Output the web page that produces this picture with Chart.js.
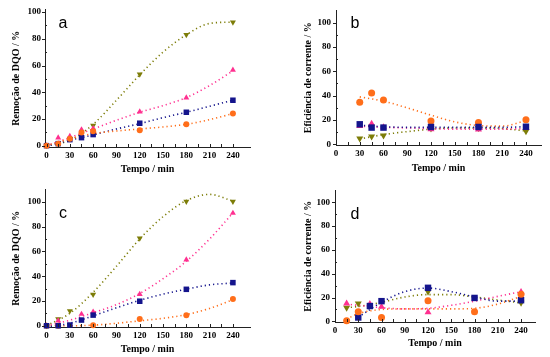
<!DOCTYPE html>
<html><head><meta charset="utf-8">
<script src="https://cdn.jsdelivr.net/npm/chart.js@4.4.1/dist/chart.umd.min.js"></script>
<style>
html,body{margin:0;padding:0;background:#fff;}
#wrap{position:relative;width:550px;height:357px;overflow:hidden;background:#fff;}
.pn{position:absolute;}
</style></head><body>
<div id="wrap">
 <div class="pn" style="left:0;top:0;width:275px;height:180px"><canvas id="ca" width="275" height="180"></canvas></div>
 <div class="pn" style="left:275px;top:0;width:275px;height:180px"><canvas id="cb" width="275" height="180"></canvas></div>
 <div class="pn" style="left:0;top:180px;width:275px;height:177px"><canvas id="cc" width="275" height="177"></canvas></div>
 <div class="pn" style="left:275px;top:180px;width:275px;height:177px"><canvas id="cd" width="275" height="177"></canvas></div>
</div>
<script>
// ---------- data ----------
const xTicks = [0,30,60,90,120,150,180,210,240];
const yTicks = [0,20,40,60,80,100];
const titleX = "Tempo / min";
const titleRem = "Remoção de DQO / %";
const titleEf = "Eficiência de corrente / %";

const tAC = [0,15,30,45,60,120,180,240];
const tB  = [30,45,60,120,180,240];
const tD  = [15,30,45,60,120,180,240];
const tFit  = [0,30,60,90,120,150,180,210,240];
const tFitB = [30,60,90,120,150,180,210,240];
const tFitD = [15,30,60,90,120,150,180,210,240];

// panel a
const aSquare = [0,1.5,4.5,6,8.3,16.8,25,34];
const aCircle = [0,1.5,5.2,9.8,10.7,11.5,16,24];
const aUp     = [0,5.9,7.1,12,12.9,25.4,35.9,56.6];
const aDown   = [0,null,null,null,15.1,53.4,83,92.4];
const aSquareFit = [-0.5,4,8,12.5,16.5,21,25,29.5,34];
const aCircleFit = [0,5,9,11,12.5,14,16,19.5,24];
const aUpFit     = [0,6,12.5,19,25,30,36,45,56];
const aDownFit   = [0,4,16,34,53,70,83,91.5,92.5];

// panel b
const bSquare = [16.5,13.8,13.8,14.3,14.3,14.5];
const bCircle = [34.6,42.2,36.5,19.2,17.9,20.3];
const bUp     = [15.1,17,14,12.4,12.2,13.5];
const bDown   = [4.9,6.5,7.3,13,13.5,10.8];
const bSquareFit = [15.7,14.5,14,14,14,14,14,14.5];
const bCircleFit = [39,35.5,30,24,18.5,15.5,15,19.5];
const bUpFit     = [15,14,13.5,13,12.5,12.5,12.5,13];
const bDownFit   = [4.5,8,10.5,12.5,13.5,13.5,13,11];

// panel c
const cSquare = [0,0,0.6,4.6,8.6,19.8,29.4,34.8];
const cCircle = [0,0,null,null,0.5,5.5,8.5,21.5];
const cUp     = [0,4,null,9.4,11.2,25.4,53.2,90.9];
const cDown   = [0,5.4,12,null,25.2,70.6,100.2,100.2];
const cSquareFit = [-1,2,8,14.5,20.5,25.5,29.5,33,34.5];
const cCircleFit = [0,0,0.5,2,4,6,9,14,21];
const cUpFit     = [0,4.5,10.5,17,26,38,52,70,91];
const cDownFit   = [0,10,27,48,70,88,101,106,100.5];

// panel d
const dSquare = [null,3.3,12.9,17,28.2,19.7,17.8];
const dCircle = [0.6,8.2,null,3.3,17.3,8.2,22.8];
const dUp     = [15.1,null,14.5,12.3,7.7,null,24.7];
const dDown   = [11.5,15.1,null,null,25,null,15.6];
const dSquareFit = [null,3.5,16,25,28,25,20.5,17,17];
const dCircleFit = [2,6.5,10,10.5,10.5,10.5,11,14.5,21];
const dUpFit     = [14.5,13.5,11.5,10.5,11,13.5,17,21,25];
const dDownFit   = [11.5,12.5,16,20.5,22.5,22.5,20.5,18,15.5];

// ---------- styling ----------
const C = {
  navy:'#14148c', orange:'#ff6e1a', pink:'#ff3090', olive:'#7d7d08'
};
const serif = "'Liberation Serif','Times New Roman',serif";

function pts(t, v){ return t.map((x,i)=>({x:x, y:v[i]})).filter(p=>p.y!==null); }

function series(t, v, tf, vf, color, style, r, order){
  const rot = style === 'down' ? 180 : 0;
  const ps = style === 'square' ? 'rect' : (style === 'circle' ? 'circle' : 'triangle');
  const rr = style === 'square' ? r*1.3 : (style === 'circle' ? r : r*1.15);
  return [
    {data: pts(t,v), showLine:false, pointStyle:ps, rotation:rot, pointRadius:rr,
     backgroundColor:color, borderColor:color, borderWidth:0, order:order, clip:false},
    {data: pts(tf,vf), showLine:true, pointRadius:0, borderColor:color, borderWidth:1.6,
     borderDash:[1.2,3], borderCapStyle:'butt', cubicInterpolationMode:'monotone',
     fill:false, order:order+10, clip:false}
  ];
}

const tickPlugin = {
  id:'ticksDraw',
  afterDraw(chart){
    const ctx = chart.ctx, xs = chart.scales.x, ys = chart.scales.y;
    const a = chart.chartArea;
    ctx.save();
    ctx.strokeStyle = '#222'; ctx.lineWidth = 1;
    ctx.beginPath();
    for (let v = 0; v <= 240; v += 15){
      const px = Math.round(xs.getPixelForValue(v)) + 0.5;
      ctx.moveTo(px, a.bottom); ctx.lineTo(px, a.bottom - 3);
    }
    for (let v = 0; v <= 100; v += 10){
      const py = Math.round(ys.getPixelForValue(v)) + 0.5;
      if (v % 20 === 0){ ctx.moveTo(a.left - 3, py); ctx.lineTo(a.left, py); }
      else { ctx.moveTo(a.left, py); ctx.lineTo(a.left + 2, py); }
    }
    ctx.stroke();
    const o = chart.options.plugins.ticksDraw;
    ctx.fillStyle = '#000';
    ctx.font = "16px 'Liberation Sans', Arial, sans-serif";
    ctx.textAlign = 'center'; ctx.textBaseline = 'middle';
    ctx.fillText(o.letter, o.lx, o.ly);
    ctx.restore();
  }
};

function makePanel(id, cfg){
  const {w, h, L, T, R, B, xmin, xmax, ymin, ymax, ytitle, ytPad, xtPad, yLabPad, letter, lx, ly, datasets} = cfg;
  new Chart(document.getElementById(id), {
    type:'scatter',
    data:{datasets: datasets},
    plugins:[tickPlugin],
    options:{
      responsive:false, animation:false, devicePixelRatio:1,
      layout:{padding:{left:0, top:T, right:w-R, bottom:0}},
      plugins:{legend:{display:false}, tooltip:{enabled:false},
               ticksDraw:{letter:letter, lx:lx, ly:ly}},
      scales:{
        x:{type:'linear', min:xmin, max:xmax,
           afterBuildTicks: s => { s.ticks = xTicks.map(v=>({value:v})); },
           afterFit: s => { s.height = h - B; },
           grid:{display:false, drawTicks:false},
           border:{display:true, color:'#222', width:1},
           ticks:{padding:3, color:'#000', font:{family:serif, size:9, weight:'bold'}, maxRotation:0, autoSkip:false},
           title:{display:true, text:titleX, color:'#000', font:{family:serif, size:10, weight:'bold'}, padding:{top:0, bottom:xtPad}}
        },
        y:{type:'linear', min:ymin, max:ymax,
           afterBuildTicks: s => { s.ticks = yTicks.map(v=>({value:v})); },
           afterFit: s => { s.width = L; },
           grid:{display:false, drawTicks:false},
           border:{display:true, color:'#222', width:1},
           ticks:{padding:yLabPad, color:'#000', font:{family:serif, size:9, weight:'bold'}},
           title:{display:true, text:ytitle, color:'#000', font:{family:serif, size:10, weight:'bold'}, padding:{top:ytPad, bottom:0}}
        }
      }
    }
  });
}

// panel a
makePanel('ca', {w:275, h:180, L:45, T:6, R:250, B:147,
  xmin:-2, xmax:262, ymin:-1, ymax:102, ytitle:titleRem, ytPad:10, xtPad:5, yLabPad:4,
  letter:'a', lx:63, ly:24,
  datasets:[
    ...series(tAC,aCircle,tFit,aCircleFit,C.orange,'circle',3,1),
    ...series(tAC,aSquare,tFit,aSquareFit,C.navy,'square',3,2),
    ...series(tAC,aUp,tFit,aUpFit,C.pink,'up',3,3),
    ...series(tAC,aDown,tFit,aDownFit,C.olive,'down',3,4)
  ]});

// panel b
makePanel('cb', {w:275, h:180, L:61, T:9, R:266, B:145,
  xmin:0, xmax:259, ymin:-0.5, ymax:110, ytitle:titleEf, ytPad:27, xtPad:6, yLabPad:5,
  letter:'b', lx:80, ly:24,
  datasets:[
    ...series(tB,bCircle,tFitB,bCircleFit,C.orange,'circle',3.5,2),
    ...series(tB,bSquare,tFitB,bSquareFit,C.navy,'square',3.5,1),
    ...series(tB,bUp,tFitB,bUpFit,C.pink,'up',3.5,3),
    ...series(tB,bDown,tFitB,bDownFit,C.olive,'down',3.5,4)
  ]});

// panel c
makePanel('cc', {w:275, h:177, L:45, T:8.5, R:250, B:147,
  xmin:-2, xmax:262, ymin:-1, ymax:110, ytitle:titleRem, ytPad:10, xtPad:2, yLabPad:4,
  letter:'c', lx:63, ly:34,
  datasets:[
    ...series(tAC,cSquare,tFit,cSquareFit,C.navy,'square',3,1),
    ...series(tAC,cCircle,tFit,cCircleFit,C.orange,'circle',3,2),
    ...series(tAC,cUp,tFit,cUpFit,C.pink,'up',3,3),
    ...series(tAC,cDown,tFit,cDownFit,C.olive,'down',3,4)
  ]});

// panel d
makePanel('cd', {w:275, h:177, L:60, T:7.5, R:260, B:142,
  xmin:0, xmax:258, ymin:-0.5, ymax:110, ytitle:titleEf, ytPad:27, xtPad:8, yLabPad:5,
  letter:'d', lx:80, ly:35,
  datasets:[
    ...series(tD,dCircle,tFitD,dCircleFit,C.orange,'circle',3.5,1),
    ...series(tD,dSquare,tFitD,dSquareFit,C.navy,'square',3.5,2),
    ...series(tD,dUp,tFitD,dUpFit,C.pink,'up',3.5,3),
    ...series(tD,dDown,tFitD,dDownFit,C.olive,'down',3.5,4)
  ]});
</script>
</body></html>
